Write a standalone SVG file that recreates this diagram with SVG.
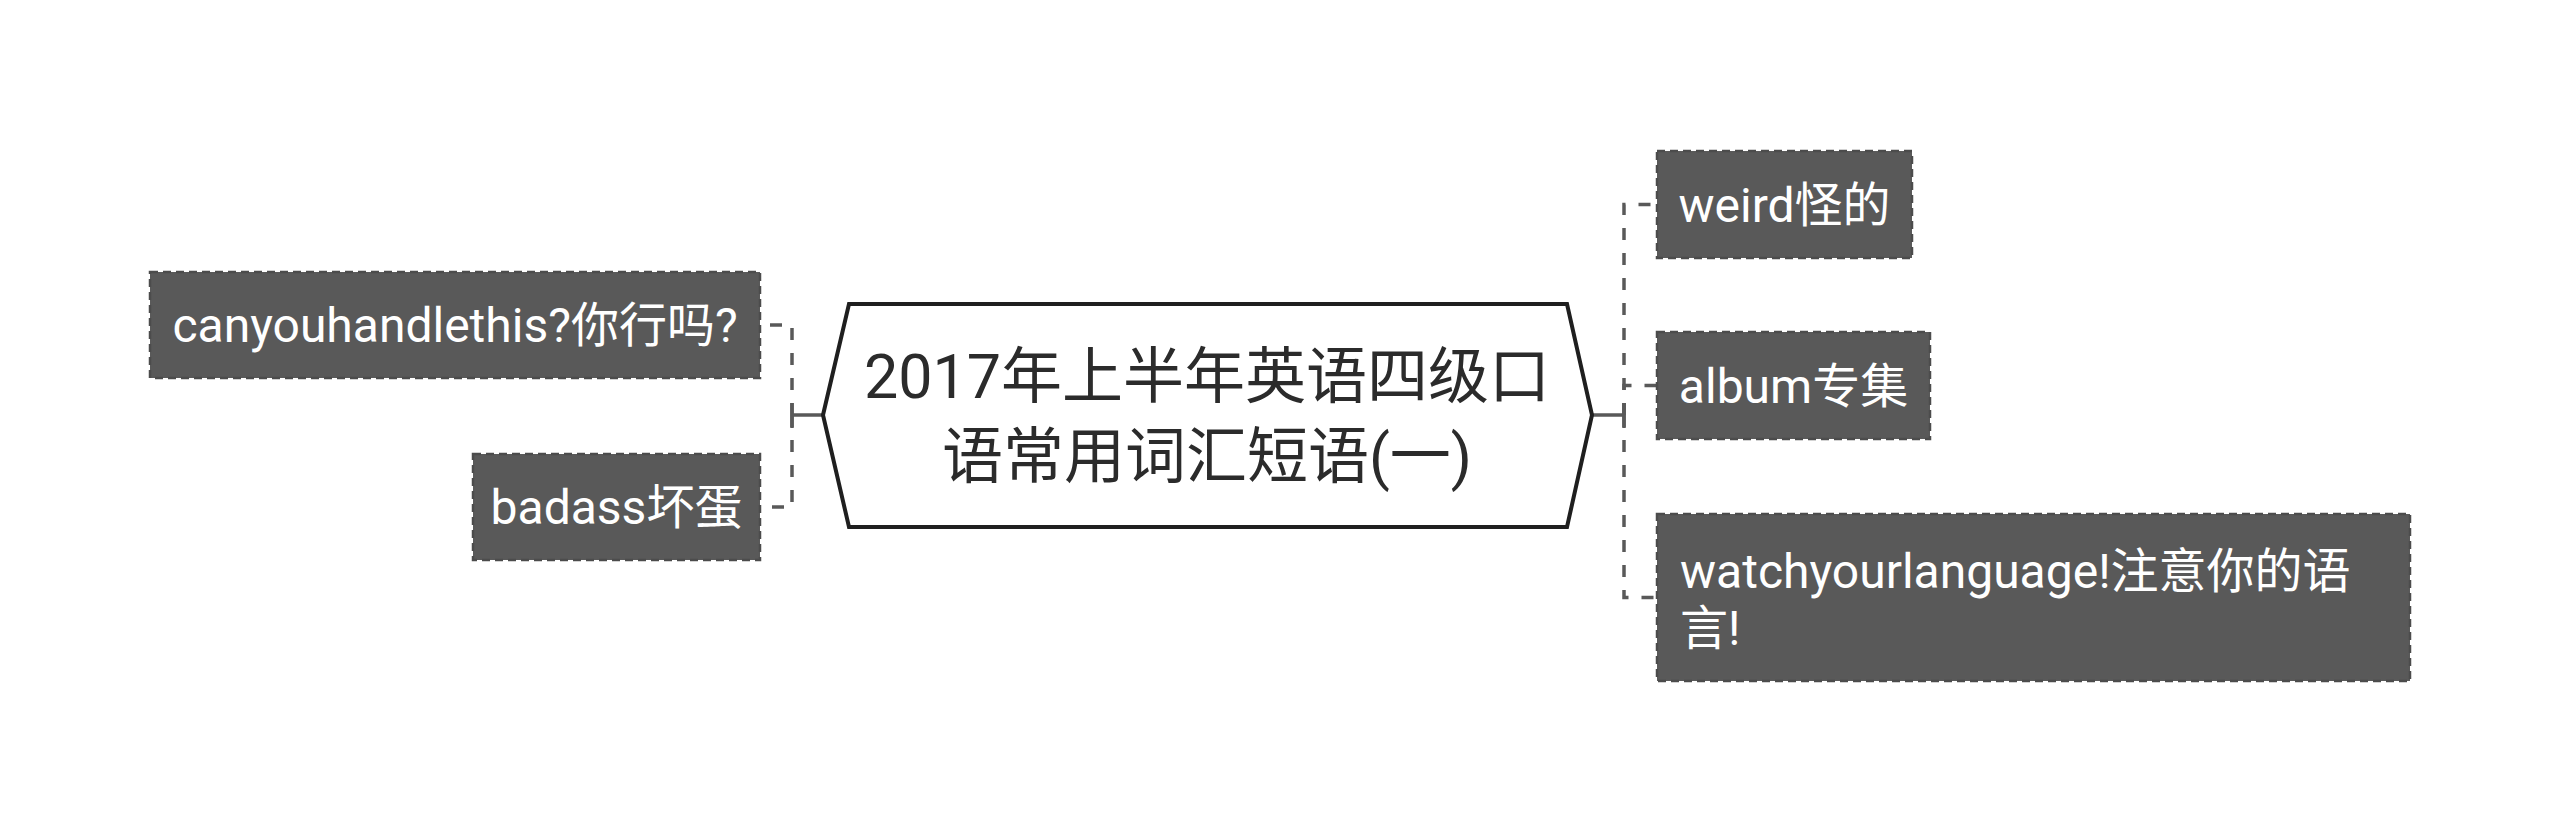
<svg xmlns="http://www.w3.org/2000/svg" width="2560" height="832" viewBox="0 0 2560 832">
<style>
.bg{fill:#ffffff}
.node rect{fill:#595959;stroke:#4c4c4c;stroke-width:2.5;stroke-dasharray:8 5}
.node text{fill:#ffffff;font-family:Roboto,"Noto Sans CJK SC",sans-serif;font-size:48px}
.root polygon{fill:#ffffff;stroke:#1f1f1f;stroke-width:4;stroke-linejoin:miter}
.root text{fill:#2b2b2b;font-family:Roboto,"Noto Sans CJK SC",sans-serif;font-size:61px;text-anchor:middle}
.solid{fill:none;stroke:#595959;stroke-width:3.5}
.dash{fill:none;stroke:#595959;stroke-width:3.5;stroke-dasharray:12 13}
</style>
<rect class="bg" x="0" y="0" width="2560" height="832"/>
<g id="connectors">
  <path class="solid" d="M823 415H792M792 403V428"/>
  <path class="dash" d="M792 415V325H760"/>
  <path class="dash" d="M792 415V507H760"/>
  <path class="solid" d="M1592 415H1624M1624 403V428"/>
  <path class="dash" d="M1624 415V204.5H1657"/>
  <path class="dash" d="M1624 415V385.5H1657"/>
  <path class="dash" d="M1624 415V597.5H1657"/>
</g>
<g id="root" class="root">
  <polygon points="823,415 849,304 1567,304 1592,415 1567,527 849,527"/>
  <text><tspan x="1207" y="398">2017年上半年英语四级口</tspan><tspan x="1207" y="478">语常用词汇短语(一)</tspan></text>
</g>
<g id="node-canyou" class="node">
  <rect x="150" y="272" width="610" height="106"/>
  <text x="455" y="342" text-anchor="middle">canyouhandlethis?你行吗?</text>
</g>
<g id="node-badass" class="node">
  <rect x="473" y="454" width="287" height="106"/>
  <text x="616.5" y="524" text-anchor="middle">badass坏蛋</text>
</g>
<g id="node-weird" class="node">
  <rect x="1657" y="151" width="255" height="107"/>
  <text x="1784.5" y="222" text-anchor="middle">weird怪的</text>
</g>
<g id="node-album" class="node">
  <rect x="1657" y="332" width="273" height="107"/>
  <text x="1793.5" y="403" text-anchor="middle">album专集</text>
</g>
<g id="node-watch" class="node">
  <rect x="1657" y="514" width="753" height="167"/>
  <text><tspan x="1680" y="588">watchyourlanguage!注意你的语</tspan><tspan x="1680" y="645">言!</tspan></text>
</g>
</svg>
